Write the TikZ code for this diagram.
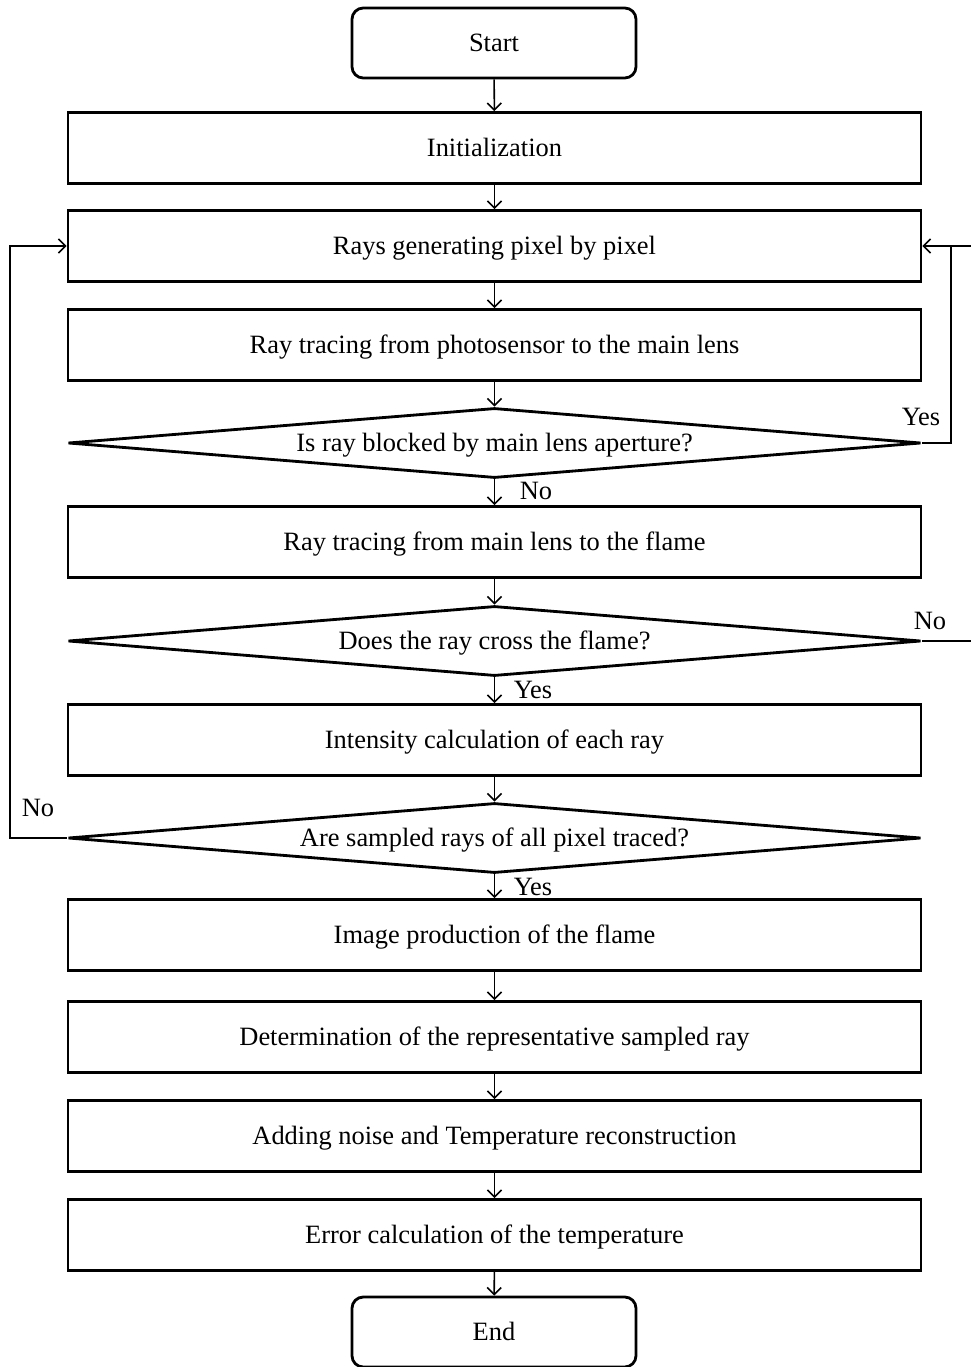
\documentclass[tikz,border=0pt]{standalone}
\usepackage{fontspec}
\setmainfont{Liberation Serif}
\usetikzlibrary{shapes.geometric,arrows.meta}
\tikzset{
  words/.style={text height=12.4pt,text depth=0pt},
  stepbox/.style={draw,line width=2pt,words,minimum width=853*0.025cm,minimum height=71*0.025cm,inner sep=0pt},
  endbox/.style={draw,line width=2pt,words,rounded corners=8pt,minimum width=284*0.025cm,minimum height=70*0.025cm,inner sep=0pt},
  test/.style={draw,diamond,line width=2pt,words,aspect=12,minimum width=853*0.025cm,minimum height=70*0.025cm,inner sep=0pt},
  link/.style={line width=1.1pt,-{Straight Barb[length=5pt,width=10pt]}},
  line/.style={line width=1.1pt},
  lab/.style={inner sep=0pt}
}
\begin{document}
\begin{tikzpicture}[x=0.025cm,y=-0.025cm,font=\fontsize{18.8}{22}\selectfont]
\useasboundingbox (0,0) rectangle (971,1367);
\node[endbox] (start) at (494,43) {Start};
\node[stepbox] (init) at (494.5,148) {Initialization};
\node[stepbox] (rays) at (494.5,246) {Rays generating pixel by pixel};
\node[stepbox] (trace1) at (494.5,345) {Ray tracing from photosensor to the main lens};
\node[test] (block) at (494.5,443) {Is ray blocked by main lens aperture?};
\node[stepbox] (trace2) at (494.5,542) {Ray tracing from main lens to the flame};
\node[test] (cross) at (494.5,641) {Does the ray cross the flame?};
\node[stepbox] (inten) at (494.5,740) {Intensity calculation of each ray};
\node[test] (all) at (494.5,838) {Are sampled rays of all pixel traced?};
\node[stepbox] (image) at (494.5,935) {Image production of the flame};
\node[stepbox] (repr) at (494.5,1037) {Determination of the representative sampled ray};
\node[stepbox] (noise) at (494.5,1136) {Adding noise and Temperature reconstruction};
\node[stepbox] (error) at (494.5,1235) {Error calculation of the temperature};
\node[endbox] (end) at (494,1332) {End};
% main flow
\draw[link] (start) -- (init);
\draw[link] (init) -- (rays);
\draw[link] (rays) -- (trace1);
\draw[link] (trace1) -- (block);
\draw[link] (block) -- (trace2);
\draw[link] (trace2) -- (cross);
\draw[link] (cross) -- (inten);
\draw[link] (inten) -- (all);
\draw[link] (all) -- (image);
\draw[link] (image) -- (repr);
\draw[link] (repr) -- (noise);
\draw[link] (noise) -- (error);
\draw[link] (error) -- (end);
% loops
\coordinate (rin) at (971,246);
\coordinate (rout) at (971,641);
\draw[link] (all.west) -- (10,838) |- (rays.west);
\draw[line] (block.east) -- (951,443) -- (951,246);
\draw[link] (rin) -- (rays.east);
\draw[line] (cross.east) -- (rout);
% labels
\node[lab] (l1) at (921,417) {Yes};
\node[lab] (l2) at (536,491) {No};
\node[lab] (l3) at (930,621) {No};
\node[lab] (l4) at (533,690) {Yes};
\node[lab] (l5) at (38,808) {No};
\node[lab] (l6) at (533,887) {Yes};
\end{tikzpicture}
\end{document}
